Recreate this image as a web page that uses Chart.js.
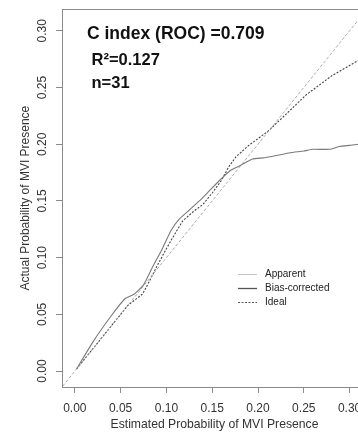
<!DOCTYPE html>
<html>
<head>
<meta charset="utf-8">
<script src="https://cdn.jsdelivr.net/npm/chart.js@4/dist/chart.umd.min.js"></script>
<style>
  html, body { margin: 0; padding: 0; background: #fff; overflow: hidden; }
  #wrap { width: 372px; height: 443px; }
</style>
</head>
<body>
<div id="wrap"><canvas id="myChart" width="372" height="443"></canvas></div>
<script>
// calibration curves
const APPARENT_X = [0.002, 0.02, 0.04, 0.058, 0.074, 0.08, 0.09, 0.10, 0.11, 0.118, 0.13, 0.14, 0.15, 0.16, 0.168, 0.176, 0.19, 0.211, 0.23, 0.2527, 0.28, 0.31, 0.33];
const APPARENT_Y = [0.002, 0.02, 0.04, 0.058, 0.068, 0.077, 0.093, 0.108, 0.122, 0.1326, 0.141, 0.147, 0.157, 0.168, 0.18, 0.189, 0.199, 0.2115, 0.226, 0.2436, 0.26, 0.274, 0.283];

const BIAS_X = [0.002, 0.02, 0.04, 0.055, 0.065, 0.075, 0.085, 0.095, 0.105, 0.114, 0.125, 0.136, 0.147, 0.158, 0.17, 0.18, 0.194, 0.207, 0.22, 0.235, 0.25, 0.26, 0.278, 0.289, 0.30, 0.31, 0.33];
const BIAS_Y = [0.002, 0.026, 0.049, 0.064, 0.068, 0.076, 0.092, 0.107, 0.124, 0.134, 0.142, 0.150, 0.159, 0.168, 0.177, 0.181, 0.187, 0.188, 0.190, 0.1925, 0.194, 0.1955, 0.1955, 0.198, 0.199, 0.200, 0.201];

const IDEAL_X = [-0.02, 0.34];
const IDEAL_Y = [-0.02, 0.34];

const TICKS = [0.00, 0.05, 0.10, 0.15, 0.20, 0.25, 0.30];
const AXIS_MIN = -0.014;
const AXIS_MAX = 0.319;

const STATS_TEXT = ['C index (ROC) =0.709', 'R\u00b2=0.127', 'n=31'];
const LEGEND_LABELS = ['Apparent', 'Bias-corrected', 'Ideal'];

const FONT = '"Liberation Sans", Arial, Helvetica, sans-serif';

function toPoints(xs, ys) {
    return xs.map((x, i) => ({ x: x, y: ys[i] }));
}

// box around the plot region, the stats text and the legend
const annotatePlugin = {
    id: 'annotate',
    afterDraw(chart) {
        const ctx = chart.ctx;
        const a = chart.chartArea;
        ctx.save();
        ctx.strokeStyle = '#8a8a8a';
        ctx.lineWidth = 1;
        ctx.strokeRect(Math.round(a.left) + 0.5, Math.round(a.top) + 0.5,
            Math.round(a.right - a.left), Math.round(a.bottom - a.top));

        ctx.fillStyle = '#111';
        ctx.textBaseline = 'alphabetic';
        ctx.font = 'bold 17.5px ' + FONT;
        ctx.fillText(STATS_TEXT[0], 87, 39);
        ctx.font = 'bold 16.5px ' + FONT;
        ctx.fillText(STATS_TEXT[1], 91.5, 65);
        ctx.fillText(STATS_TEXT[2], 91.5, 88);

        // legend
        const rows = [274, 288, 302];
        const styles = [
            { color: '#c4c4c4', width: 1, dash: [] },
            { color: '#555', width: 1.3, dash: [] },
            { color: '#555', width: 1, dash: [2, 1.5] }
        ];
        ctx.font = '10px ' + FONT;
        ctx.textBaseline = 'middle';
        rows.forEach((y, i) => {
            ctx.beginPath();
            ctx.strokeStyle = styles[i].color;
            ctx.lineWidth = styles[i].width;
            ctx.setLineDash(styles[i].dash);
            ctx.moveTo(238, y + 0.5);
            ctx.lineTo(257, y + 0.5);
            ctx.stroke();
            ctx.setLineDash([]);
            ctx.fillStyle = '#222';
            ctx.fillText(LEGEND_LABELS[i], 265, y);
        });
        ctx.restore();
    }
};

const ctx = document.getElementById('myChart');

new Chart(ctx, {
    type: 'line',
    data: {
        datasets: [
            {
                label: 'Ideal',
                data: toPoints(IDEAL_X, IDEAL_Y),
                borderColor: '#a0a0a0',
                borderWidth: 0.9,
                borderDash: [3, 2],
                pointRadius: 0,
                tension: 0
            },
            {
                label: 'Bias-corrected',
                data: toPoints(BIAS_X, BIAS_Y),
                borderColor: '#7a7a7a',
                borderWidth: 1.1,
                pointRadius: 0,
                tension: 0.15
            },
            {
                label: 'Apparent',
                data: toPoints(APPARENT_X, APPARENT_Y),
                borderColor: '#444',
                borderWidth: 1.1,
                borderDash: [2, 1.5],
                pointRadius: 0,
                tension: 0
            }
        ]
    },
    options: {
        responsive: false,
        animation: false,
        layout: { padding: { top: 7, right: 5, left: 0, bottom: 0 } },
        plugins: {
            legend: { display: false },
            tooltip: { enabled: false }
        },
        scales: {
            x: {
                type: 'linear',
                min: AXIS_MIN,
                max: AXIS_MAX,
                afterBuildTicks(scale) { scale.ticks = TICKS.map(v => ({ value: v })); },
                afterFit(scale) { scale.height = 56; },
                grid: { drawOnChartArea: false, tickLength: 6, color: '#8a8a8a' },
                border: { display: false },
                ticks: {
                    padding: 8,
                    color: '#333',
                    font: { family: FONT, size: 12 },
                    maxRotation: 0,
                    callback: v => v.toFixed(2)
                },
                title: {
                    display: true,
                    text: 'Estimated Probability of MVI Presence',
                    color: '#333',
                    font: { family: FONT, size: 12.2 },
                    padding: { top: 0, bottom: 11 }
                }
            },
            y: {
                type: 'linear',
                min: AXIS_MIN,
                max: AXIS_MAX,
                afterBuildTicks(scale) { scale.ticks = TICKS.map(v => ({ value: v })); },
                afterFit(scale) { scale.width = 62; },
                grid: { drawOnChartArea: false, tickLength: 6, color: '#8a8a8a' },
                border: { display: false },
                ticks: {
                    padding: 2,
                    minRotation: 90,
                    maxRotation: 90,
                    crossAlign: 'center',
                    color: '#333',
                    font: { family: FONT, size: 12 },
                    callback: v => v.toFixed(2)
                },
                title: {
                    display: true,
                    text: 'Actual Probability of MVI Presence',
                    color: '#333',
                    font: { family: FONT, size: 12 },
                    padding: { top: 18, bottom: 0 }
                }
            }
        }
    },
    plugins: [annotatePlugin]
});
</script>
</body>
</html>
